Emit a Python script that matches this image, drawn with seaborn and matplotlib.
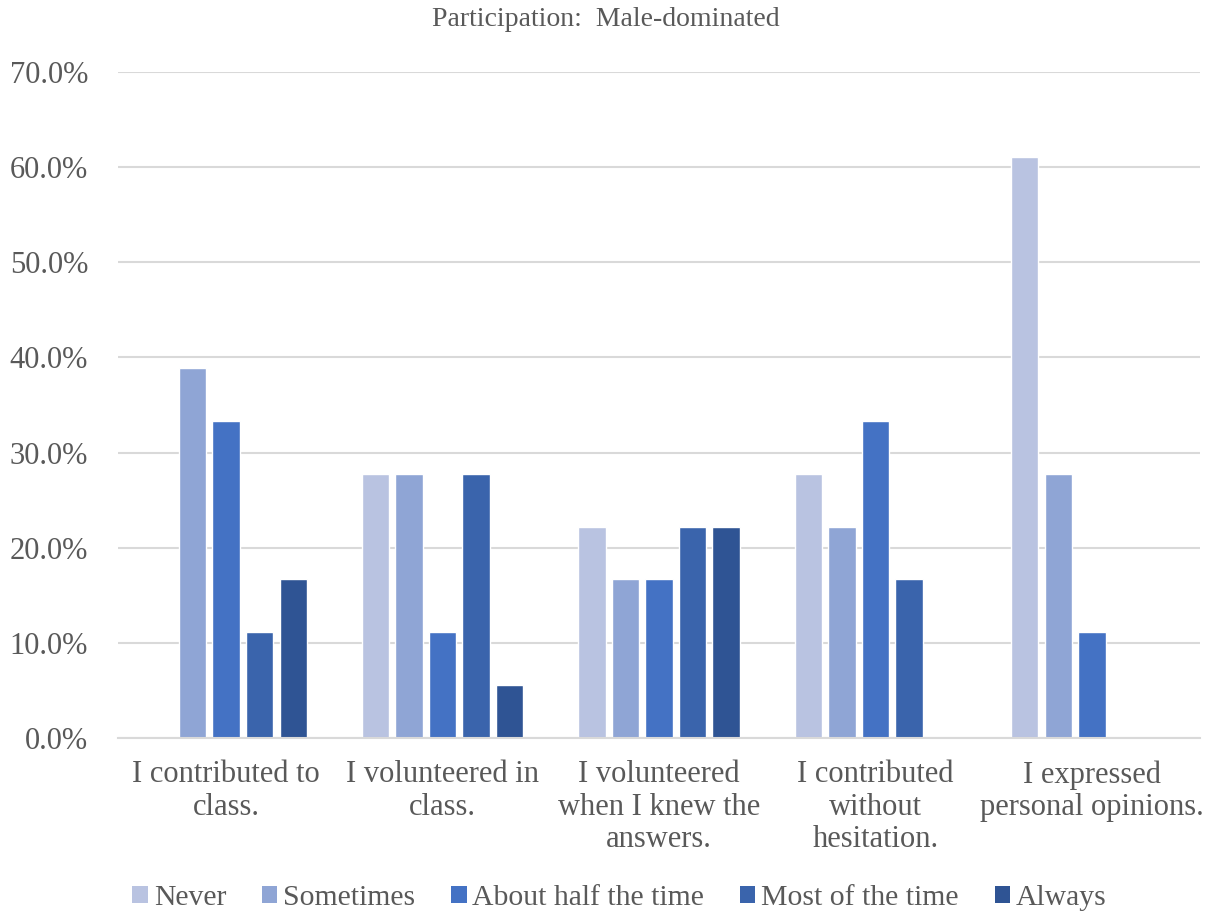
import matplotlib
matplotlib.use("Agg")
import matplotlib.pyplot as plt
from matplotlib.patches import Patch
from matplotlib.ticker import PercentFormatter, MultipleLocator
import seaborn as sns
import pandas as pd

categories = [
    "I contributed to\nclass.",
    "I volunteered in\nclass.",
    "I volunteered\nwhen I knew the\nanswers.",
    "I contributed\nwithout\nhesitation.",
    "I expressed\npersonal opinions.",
]
responses = ["Never", "Sometimes", "About half the time", "Most of the time", "Always"]

never = [0.0, 27.8, 22.2, 27.8, 61.1]
sometimes = [38.9, 27.8, 16.7, 22.2, 27.8]
about_half = [33.3, 11.1, 16.7, 33.3, 11.1]
most = [11.1, 27.8, 22.2, 16.7, 0.0]
always = [16.7, 5.6, 22.2, 0.0, 0.0]

colors = ["#B9C3E1", "#8FA5D5", "#4472C4", "#3A64AC", "#2F5494"]
text_color = "#595959"

rows = []
for resp, vals in zip(responses, [never, sometimes, about_half, most, always]):
    for cat, v in zip(categories, vals):
        rows.append({"Statement": cat, "Response": resp, "Percent": v})
df = pd.DataFrame(rows)

sns.set_theme(style="white")
plt.rcParams["font.family"] = ["Liberation Serif", "DejaVu Serif"]

fig = plt.figure(figsize=(12.11, 9.16), dpi=100)
ax = fig.add_axes([118 / 1211, 1 - 738 / 916, (1200 - 118) / 1211, (738 - 72) / 916])

sns.barplot(data=df, x="Statement", y="Percent", hue="Response",
            order=categories, hue_order=responses, palette=colors, saturation=1,
            width=0.775, gap=0.18, edgecolor="white", linewidth=1.0,
            errorbar=None, legend=False, ax=ax)

ax.set_ylim(0, 70)
ax.set_xlim(-0.5, len(categories) - 0.5)
ax.yaxis.set_major_locator(MultipleLocator(10))
ax.yaxis.set_major_formatter(PercentFormatter(decimals=1))
ax.grid(axis="y", color="#D9D9D9", linewidth=1.5)
ax.set_axisbelow(True)
for side in ["top", "right", "left"]:
    ax.spines[side].set_visible(False)
ax.spines["bottom"].set_color("#D9D9D9")
ax.spines["bottom"].set_linewidth(1.5)
ax.set_xlabel("")
ax.set_ylabel("")
ax.tick_params(axis="both", length=0, colors=text_color, labelsize=22)
ax.tick_params(axis="y", pad=21.5)
ax.tick_params(axis="x", pad=16)
for lbl in ax.get_xticklabels():
    lbl.set_linespacing(1.16)
    lbl.set_color(text_color)

fig.text(0.5, 1 - 19 / 916, "Participation:  Male-dominated", ha="center", va="center",
         fontsize=20, color=text_color)

handles = [Patch(facecolor=c, edgecolor="none") for c in colors]
fig.legend(handles, responses, loc="center", bbox_to_anchor=(619.5 / 1211, 1 - 898 / 916),
           ncol=5, frameon=False, fontsize=21.4, labelcolor=text_color,
           handlelength=0.52, handleheight=0.52, handletextpad=0.2, columnspacing=1.2)

fig.savefig("out.png", dpi=100)
